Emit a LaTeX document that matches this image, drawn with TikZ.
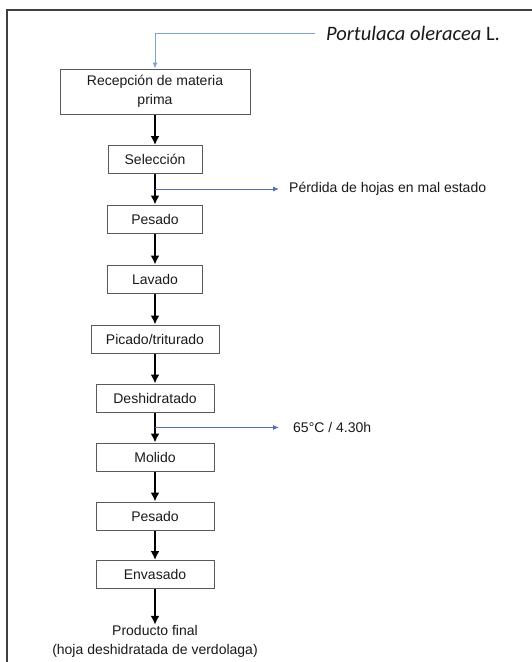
\documentclass[tikz,border=0pt]{standalone}
\usepackage{fontspec}
\setmainfont{Liberation Sans}
\newfontfamily\calfont{Carlito}
\usepackage{xcolor}
\usetikzlibrary{positioning}
\usetikzlibrary{arrows.meta}
\definecolor{inblue}{RGB}{125,165,210}
\definecolor{sideblue}{RGB}{80,115,175}

\begin{document}
\begin{tikzpicture}[x=1pt,y=-1pt]
        \tikzset{box/.style = {draw=black!65, line width=1pt, minimum height=28pt, inner sep=2pt, text=black!90, font=\fontsize{14}{19}\selectfont}}
        \tikzset{edge/.style = {-{Latex[length=9pt,width=9pt]}, line width=2.6pt}}
        \tikzset{sideedge/.style = {-{Latex[length=6pt,width=5pt]}, line width=0.9pt, sideblue}}
        \tikzset{inedge/.style = {-{Latex[length=6pt,width=5pt]}, line width=0.9pt, inblue}}
        \tikzset{note/.style = {anchor=west, inner sep=0pt, text=black!90, font=\fontsize{14}{17}\selectfont}}

        \useasboundingbox (0,0) rectangle (532,662);

        % frame
        \draw[black!75, line width=1.8pt] (7,662) -- (7,10) -- (532,10);

        % steps
        \node[box, minimum width=190pt, minimum height=45pt, align=center] (recep) at (155,91.5) {Recepción de materia\\prima};
        \node[box, minimum width=94pt] (sel) at (155,159.5) {Selección};
        \node[box, minimum width=95pt] (pes1) at (155,219) {Pesado};
        \node[box, minimum width=95pt] (lav) at (155,279) {Lavado};
        \node[box, minimum width=128pt] (pic) at (155,339) {Picado/triturado};
        \node[box, minimum width=118pt] (desh) at (155,398) {Deshidratado};
        \node[box, minimum width=118pt] (mol) at (155,457) {Molido};
        \node[box, minimum width=118pt] (pes2) at (155,516) {Pesado};
        \node[box, minimum width=118pt] (env) at (155,574.5) {Envasado};
        \node[align=center, inner sep=0pt, text=black!90, font=\fontsize{14}{19}\selectfont] (prod) at (155,641) {Producto final\\(hoja deshidratada de verdolaga)};

        % raw material
        \node[anchor=west, inner sep=0pt, text=black!90, font=\calfont\fontsize{20.5}{22}\selectfont] (port) at (326,33) {\textit{Portulaca oleracea} L.};
        \draw[inedge, shorten <=11pt] (port.west) -| (recep.north);

        % flow
        \draw[edge] (recep) -- (sel);
        \draw[edge] (sel) -- (pes1);
        \draw[edge] (pes1) -- (lav);
        \draw[edge] (lav) -- (pic);
        \draw[edge] (pic) -- (desh);
        \draw[edge] (desh) -- (mol);
        \draw[edge] (mol) -- (pes2);
        \draw[edge] (pes2) -- (env);
        \draw[edge] (env) -- (prod);

        % side outputs
        \node[note] (perd) at (289,189) {Pérdida de hojas en mal estado};
        \node[note] (temp) at (293,427.5) {65°C / 4.30h};
        \draw[sideedge, shorten >=10pt] (sel.south |- perd.west) -- (perd.west);
        \draw[sideedge, shorten >=14pt] (desh.south |- temp.west) -- (temp.west);

\end{tikzpicture}
\end{document}
